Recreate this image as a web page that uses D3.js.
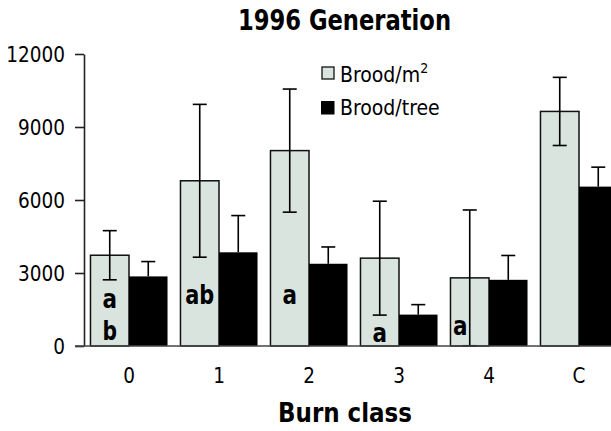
<!DOCTYPE html>
<html><head><meta charset="utf-8">
<script src="https://cdn.jsdelivr.net/npm/d3@7"></script>
<style>
body{margin:0;background:#fff;}
text{font-family:"DejaVu Sans Condensed","DejaVu Sans",sans-serif;font-stretch:condensed;}
</style></head>
<body><svg id="c" width="611" height="431"></svg>
<script>
const categories = ["0","1","2","3","4","C"];
const broodM2 = [3730, 6790, 8030, 3610, 2800, 9640];
const broodM2Err = [1010, 3140, 2530, 2340, 2790, 1400];
const broodTree = [2860, 3850, 3380, 1290, 2720, 6550];
const broodTreeErr = [610, 1510, 690, 410, 1000, 800];
const yTicks = [0, 3000, 6000, 9000, 12000];
const letters = [["a","b"], ["ab"], ["a"], ["a"], ["a"], []];
const seriesNames = ["Brood/m", "Brood/tree"];
const lightFill = "#d9e4df";

const svg = d3.select("#c");
const x0 = d3.scaleBand().domain(categories).range([84, 624]).paddingInner(0.144).paddingOuter(0.072);
const x1 = d3.scaleBand().domain(["m2","tree"]).range([0, x0.bandwidth()]);
const y = d3.scaleLinear().domain([0, 12000]).range([346, 54]);

// axes
const yAxis = d3.axisLeft(y).tickValues(yTicks).tickSize(9).tickSizeOuter(0).tickFormat(d3.format("d"));
const gy = svg.append("g").attr("transform","translate(84,0)").call(yAxis);
gy.select(".domain").attr("stroke","#222").attr("stroke-width",1.6);
gy.selectAll(".tick line").attr("stroke","#222").attr("stroke-width",1.6);
gy.selectAll(".tick text").attr("font-size",20.5).attr("fill","#000").attr("x",-19).attr("dy","0.36em")
  .attr("font-family","'DejaVu Sans Condensed','DejaVu Sans',sans-serif");

// bars
const groups = svg.append("g").selectAll("g").data(categories).join("g")
  .attr("transform", d => `translate(${x0(d)},0)`);

groups.append("rect")
  .attr("x", x1("m2")).attr("width", x1.bandwidth())
  .attr("y", (d,i) => y(broodM2[i])).attr("height", (d,i) => y(0) - y(broodM2[i]))
  .attr("fill", lightFill).attr("stroke","#111").attr("stroke-width",1.5);
groups.append("rect")
  .attr("x", x1("tree")).attr("width", x1.bandwidth())
  .attr("y", (d,i) => y(broodTree[i])).attr("height", (d,i) => y(0) - y(broodTree[i]))
  .attr("fill", "#000");

// error bars
const cap = 7;
groups.each(function(d,i){
  const g = d3.select(this);
  const cx = x1("m2") + x1.bandwidth()/2;
  const hi = broodM2[i] + broodM2Err[i], lo = broodM2[i] - broodM2Err[i];
  g.append("line").attr("x1",cx).attr("x2",cx).attr("y1",y(hi)).attr("y2",y(lo)).attr("stroke","#000").attr("stroke-width",1.6);
  g.append("line").attr("x1",cx-cap).attr("x2",cx+cap).attr("y1",y(hi)).attr("y2",y(hi)).attr("stroke","#000").attr("stroke-width",1.6);
  g.append("line").attr("x1",cx-cap).attr("x2",cx+cap).attr("y1",y(lo)).attr("y2",y(lo)).attr("stroke","#000").attr("stroke-width",1.6);
  const cx2 = x1("tree") + x1.bandwidth()/2;
  const hi2 = broodTree[i] + broodTreeErr[i];
  g.append("line").attr("x1",cx2).attr("x2",cx2).attr("y1",y(hi2)).attr("y2",y(broodTree[i])).attr("stroke","#000").attr("stroke-width",1.6);
  g.append("line").attr("x1",cx2-cap).attr("x2",cx2+cap).attr("y1",y(hi2)).attr("y2",y(hi2)).attr("stroke","#000").attr("stroke-width",1.6);
});

// x baseline
svg.append("line").attr("x1",75).attr("x2",611).attr("y1",y(0)).attr("y2",y(0)).attr("stroke","#444").attr("stroke-width",1.6);

// x labels
svg.append("g").selectAll("text").data(categories).join("text")
  .attr("x", d => x0(d) + x0.bandwidth()/2).attr("y", 383)
  .attr("text-anchor","middle").attr("font-size",20.5).text(d => d);

// significance letters
const letterY = [[308,340],[304],[304],[342],[335],[]];
categories.forEach((d,i) => {
  const cx = x0(d) + x1("m2") + x1.bandwidth()/2;
  letters[i].forEach((t,j) => {
    svg.append("text").attr("x", i===4 ? x0(d)+x1("m2")+2.5 : cx)
      .attr("y", letterY[i][j])
      .attr("text-anchor", i===4 ? "start" : "middle")
      .attr("font-size",27).attr("font-weight","bold")
      .attr("textLength", t.length * 14.5).attr("lengthAdjust","spacingAndGlyphs").text(t);
  });
});

// title and axis title
svg.append("text").attr("x",344.5).attr("y",30).attr("text-anchor","middle")
  .attr("font-size",29).attr("font-weight","bold")
  .attr("textLength",213).attr("lengthAdjust","spacingAndGlyphs").text("1996 Generation");
svg.append("text").attr("x",345).attr("y",422).attr("text-anchor","middle")
  .attr("font-size",26).attr("font-weight","bold")
  .attr("textLength",134).attr("lengthAdjust","spacingAndGlyphs").text("Burn class");

// legend
const lg = svg.append("g");
lg.append("rect").attr("x",322).attr("y",67).attr("width",12).attr("height",12).attr("fill",lightFill).attr("stroke","#111").attr("stroke-width",1.3);
lg.append("rect").attr("x",321).attr("y",101).attr("width",13.5).attr("height",13.5).attr("fill","#000");
const t1 = lg.append("text").attr("x",340).attr("y",82).attr("font-size",21).text(seriesNames[0]);
t1.append("tspan").attr("dy",-9).attr("font-size",14).text("2");
lg.append("text").attr("x",340).attr("y",115).attr("font-size",21).text(seriesNames[1]);
</script></body></html>
